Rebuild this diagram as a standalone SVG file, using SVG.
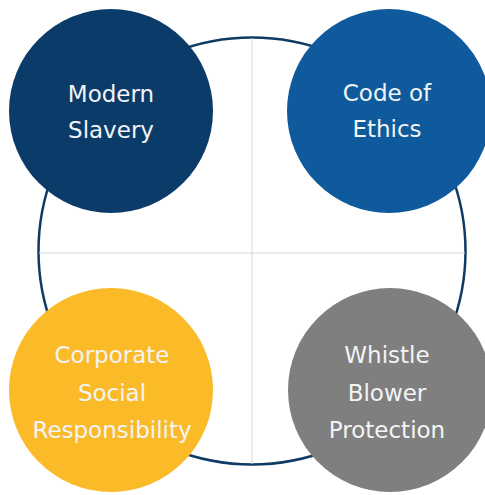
<svg xmlns="http://www.w3.org/2000/svg" width="485" height="495" viewBox="0 0 485 495">
  <style>
    .ring { fill: none; stroke: #0e3a63; stroke-width: 2.5; }
    .axis { stroke: #d4d7db; stroke-width: 1; }
    .label { font-family: "DejaVu Sans", "Liberation Sans", sans-serif; font-size: 23px; fill: #f2f4f6; text-anchor: middle; }
  </style>
  <rect width="485" height="495" fill="#ffffff"/>

  <!-- Background ring and quadrant axes -->
  <g id="connectors">
    <circle class="ring" cx="252" cy="251" r="213.5"/>
    <line class="axis" x1="252" y1="38" x2="252" y2="464"/>
    <line class="axis" x1="39" y1="253" x2="465" y2="253"/>
  </g>

  <g id="modern-slavery">
    <circle cx="111" cy="111" r="102" fill="#0b3b68"/>
    <text class="label" x="111" y="102">Modern</text>
    <text class="label" x="111" y="138">Slavery</text>
  </g>

  <g id="code-of-ethics">
    <circle cx="389" cy="111" r="102" fill="#0e5a9c"/>
    <text class="label" x="387" y="101">Code of</text>
    <text class="label" x="387" y="137">Ethics</text>
  </g>

  <g id="corporate-social-responsibility">
    <circle cx="111" cy="390" r="102" fill="#fbba27"/>
    <text class="label" x="112" y="363">Corporate</text>
    <text class="label" x="112" y="401">Social</text>
    <text class="label" x="112" y="438">Responsibility</text>
  </g>

  <g id="whistle-blower-protection">
    <circle cx="390" cy="390" r="102" fill="#7f7f7f"/>
    <text class="label" x="387" y="363">Whistle</text>
    <text class="label" x="387" y="401">Blower</text>
    <text class="label" x="387" y="438">Protection</text>
  </g>
</svg>
